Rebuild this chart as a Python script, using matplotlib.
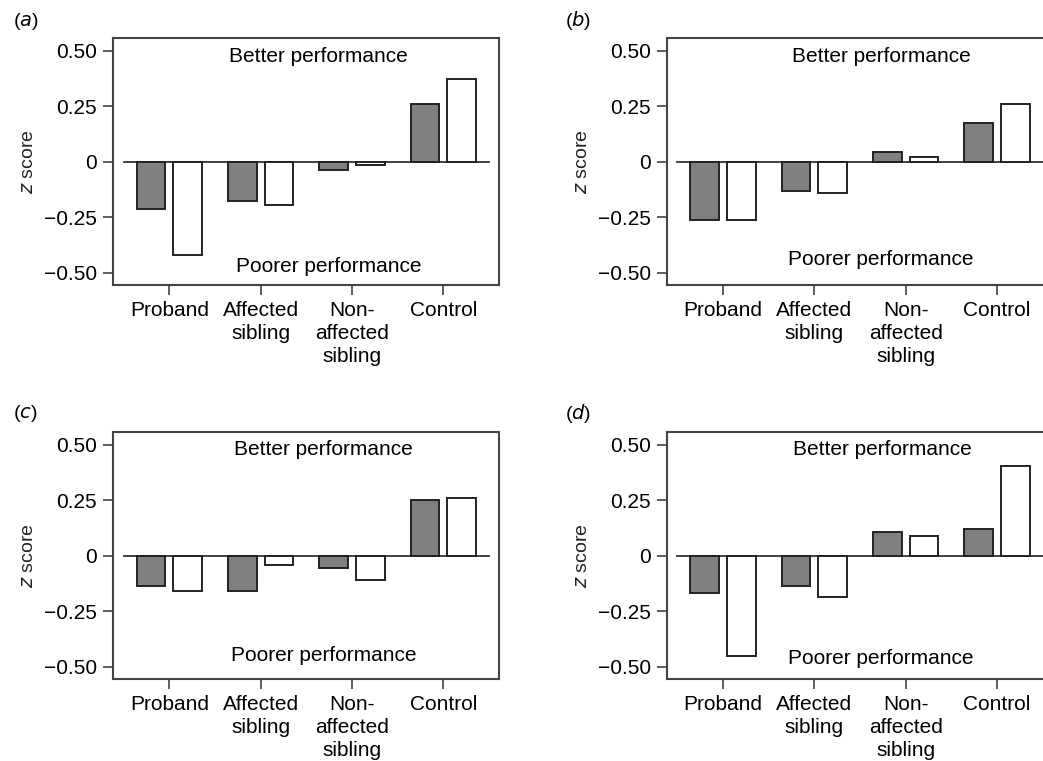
import numpy as np
import matplotlib
matplotlib.use("Agg")
import matplotlib.pyplot as plt

# groups along the x axis
categories = ['Proband', 'Affected\nsibling', 'Non-\naffected\nsibling', 'Control']

# z scores per panel: (grey bars, white bars)
panel_a_grey = [-0.212, -0.178, -0.036, 0.258]
panel_a_white = [-0.419, -0.196, -0.016, 0.374]

panel_b_grey = [-0.264, -0.132, 0.045, 0.176]
panel_b_white = [-0.264, -0.141, 0.022, 0.259]

panel_c_grey = [-0.136, -0.160, -0.057, 0.250]
panel_c_white = [-0.160, -0.042, -0.110, 0.259]

panel_d_grey = [-0.166, -0.137, 0.108, 0.122]
panel_d_white = [-0.450, -0.185, 0.090, 0.405]

panel_letters = ['a', 'b', 'c', 'd']
yticks = [-0.5, -0.25, 0, 0.25, 0.5]
yticklabels = ['\u22120.50', '\u22120.25', '0', '0.25', '0.50']

# layout (figure fractions) and annotation placement (axes x, data y)
W, H = 1043, 761
ax_pos = [
    (113 / W, 1 - 285 / H),
    (666.7 / W, 1 - 285 / H),
    (113 / W, 1 - 679 / H),
    (666.7 / W, 1 - 679 / H),
]
ax_w = 386 / W
ax_h = 247 / H
better_xy = [(0.532, 0.473), (0.556, 0.473), (0.546, 0.478), (0.558, 0.478)]
poorer_xy = [(0.558, -0.473), (0.555, -0.438), (0.547, -0.449), (0.555, -0.464)]
letter_xy = [(13, 21), (565, 21), (13, 414), (565, 414)]

plt.rc("font", family=["Liberation Sans", "DejaVu Sans"])

fig = plt.figure(figsize=(W / 100, H / 100), dpi=100)

grey_sets = [panel_a_grey, panel_b_grey, panel_c_grey, panel_d_grey]
white_sets = [panel_a_white, panel_b_white, panel_c_white, panel_d_white]

edge = '#222222'
spine_col = '#444444'
x = np.arange(len(categories))
bw = 0.315
off = 0.2

for i in range(4):
    ax = fig.add_axes([ax_pos[i][0], ax_pos[i][1], ax_w, ax_h])

    ax.bar(x - off, grey_sets[i], width=bw, color='#808080',
           edgecolor=edge, linewidth=1.4, zorder=3)
    ax.bar(x + off, white_sets[i], width=bw, color='white',
           edgecolor=edge, linewidth=1.4, zorder=3)

    # zero reference line
    ax.plot([-0.5, 3.5], [0, 0], color='#333333', lw=1.3, zorder=2)

    ax.set_xlim(-0.617, 3.61)
    ax.set_ylim(-0.555, 0.557)

    ax.set_yticks(yticks)
    ax.set_yticklabels(yticklabels)
    ax.set_xticks(x)
    ax.set_xticklabels(categories, linespacing=1.27)

    ax.tick_params(axis='both', direction='out', length=7.5, width=1.2,
                   color=spine_col, labelsize=15, pad=4)
    for sp in ax.spines.values():
        sp.set_color(spine_col)
        sp.set_linewidth(1.5)

    ax.set_ylabel('$z$ score', fontsize=14, labelpad=5, color='#222222')

    bx, by = better_xy[i]
    ax.text(bx, by, 'Better performance', transform=ax.get_yaxis_transform(),
            ha='center', va='center', fontsize=15)
    px, py = poorer_xy[i]
    ax.text(px, py, 'Poorer performance', transform=ax.get_yaxis_transform(),
            ha='center', va='center', fontsize=15)

    lx, ly = letter_xy[i]
    fig.text(lx / W, 1 - ly / H, '($' + panel_letters[i] + '$)',
             ha='left', va='center', fontsize=14)

fig.savefig('out.png', dpi=100)
